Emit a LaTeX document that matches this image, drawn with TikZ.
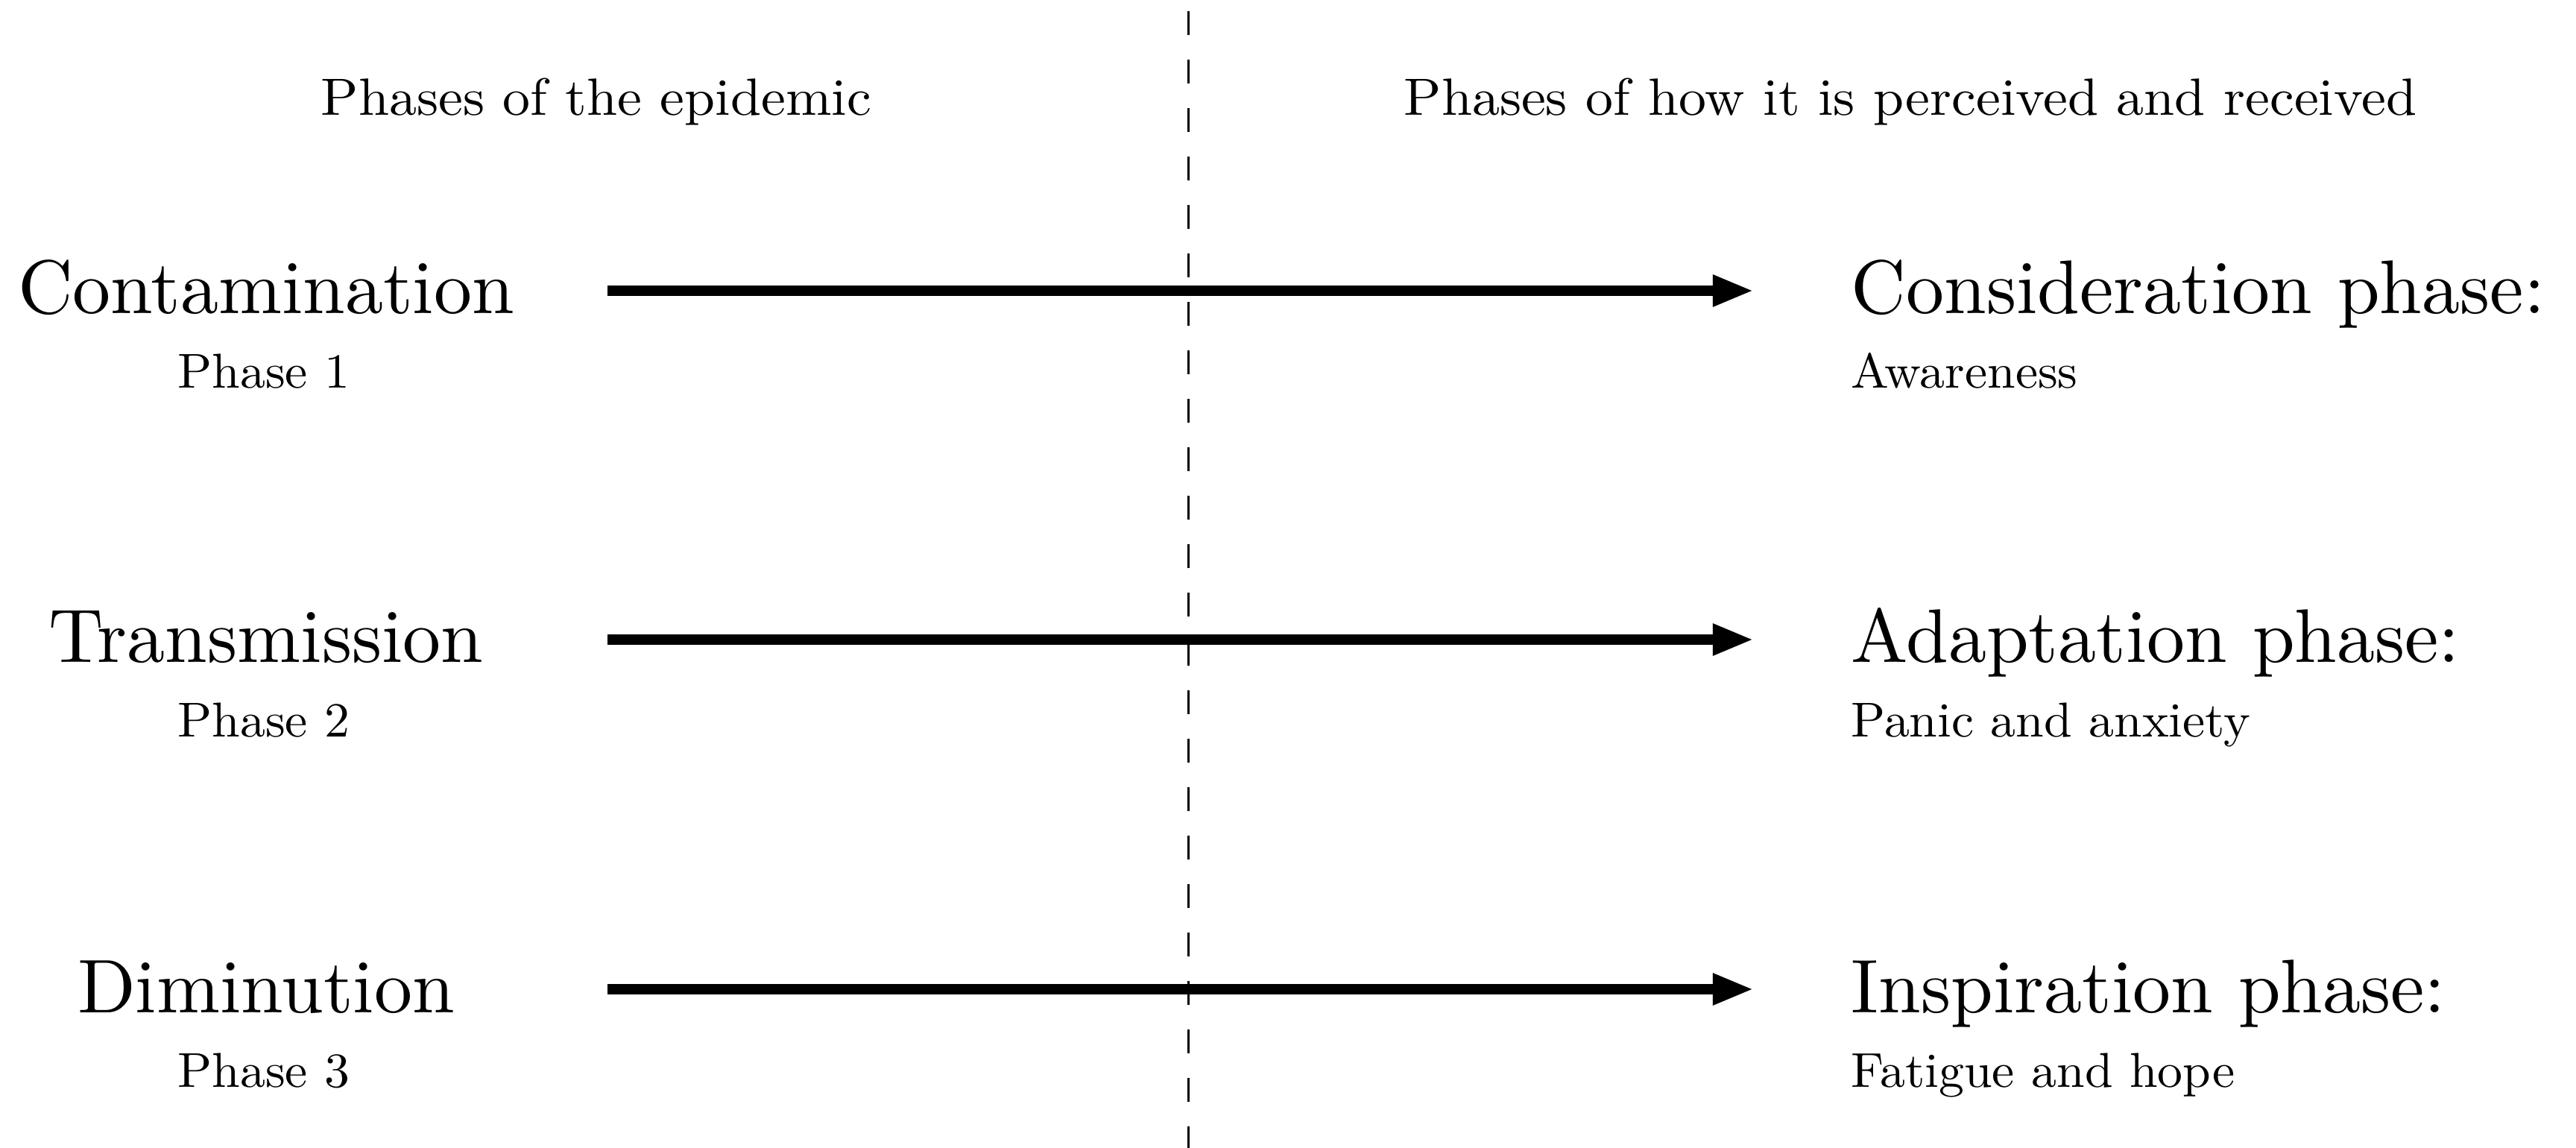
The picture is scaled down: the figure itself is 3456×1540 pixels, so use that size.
\documentclass[tikz,border=0pt]{standalone}
\usepackage{fontspec}
\newfontfamily\bigfam{lmroman10-regular.otf}
\newfontfamily\smallfam{lmroman10-regular.otf}[FakeStretch=1.03]
\newfontfamily\headfam{lmroman10-regular.otf}[FakeStretch=1.05]
\usetikzlibrary{arrows.meta}
\begin{document}
\begin{tikzpicture}[x=0.01cm,y=-0.01cm,
  big/.style={inner sep=0pt,font=\bigfam\fontsize{29}{34}\selectfont},
  small/.style={inner sep=0pt,font=\smallfam\fontsize{18.7}{22}\selectfont},
  head/.style={inner sep=0pt,font=\headfam\fontsize{20}{24}\selectfont},
  flow/.style={line width=0.14cm,-{Triangle[length=0.55cm,width=0.39cm]}},
  divider/.style={line width=0.03cm,dash pattern=on 0.32cm off 0.33cm}]
\useasboundingbox (0,0) rectangle (3456,1540);
\node[head,anchor=base] (h1) at (800,155) {Phases of the epidemic};
\node[head,anchor=base] (h2) at (2563,155) {Phases of how it is perceived and received};
\coordinate (dtop) at (1594,15);
\coordinate (dbot) at (1594,1540);
\draw[divider] (dtop) -- (dbot);
% row 1
\node[big,anchor=base] (l1) at (357,421) {Contamination};
\node[small,anchor=base] (p1) at (354,521) {Phase 1};
\node[big,anchor=base west] (r1) at (2483,421) {Consideration phase:};
\node[small,anchor=base west] (s1) at (2483,521) {Awareness};
\coordinate (a1s) at (815,390);
\coordinate (a1e) at (2353,390);
\draw[flow] (a1s) -- (a1e);
% row 2
\node[big,anchor=base] (l2) at (357,889) {Transmission};
\node[small,anchor=base] (p2) at (354,989) {Phase 2};
\node[big,anchor=base west] (r2) at (2483,889) {Adaptation phase:};
\node[small,anchor=base west] (s2) at (2483,989) {Panic and anxiety};
\coordinate (a2s) at (815,858);
\coordinate (a2e) at (2353,858);
\draw[flow] (a2s) -- (a2e);
% row 3
\node[big,anchor=base] (l3) at (357,1358) {Diminution};
\node[small,anchor=base] (p3) at (354,1458) {Phase 3};
\node[big,anchor=base west] (r3) at (2483,1358) {Inspiration phase:};
\node[small,anchor=base west] (s3) at (2483,1458) {Fatigue and hope};
\coordinate (a3s) at (815,1327);
\coordinate (a3e) at (2353,1327);
\draw[flow] (a3s) -- (a3e);
\end{tikzpicture}
\end{document}
